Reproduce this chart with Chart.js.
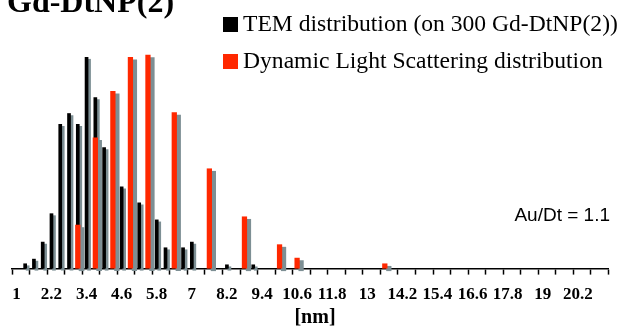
<!DOCTYPE html>
<html>
<head>
<meta charset="utf-8">
<script src="https://cdn.jsdelivr.net/npm/chart.js@4.4.1/dist/chart.umd.min.js"></script>
<style>
  html, body { margin: 0; padding: 0; background: #ffffff; }
  #wrap { position: relative; width: 617px; height: 327px; overflow: hidden; background: #fff; }
  #c { position: absolute; left: 0; top: 0; }
  .t { position: absolute; white-space: nowrap; color: #000; }
  .serif { font-family: "Liberation Serif", "Times New Roman", serif; }
  #title { left: 7px; top: -14.8px; font-size: 32px; line-height: 32px; font-weight: bold; }
  .lg { left: 243px; font-size: 23.6px; line-height: 23.6px; }
  .sq { position: absolute; left: 223px; width: 15px; height: 15px; }
  #au { right: 7px; top: 204.6px; font-family: "Liberation Sans", Arial, sans-serif; font-size: 19px; line-height: 19px; }
  #xt { left: 315px; top: 306px; transform: translateX(-50%); font-size: 20px; line-height: 20px; font-weight: bold; }
</style>
</head>
<body>
<div id="wrap">
  <canvas id="c" width="617" height="327"></canvas>
  <div class="t serif" id="title">Gd-DtNP(2)</div>
  <div class="sq" style="top:16.5px;background:#000;"></div>
  <div class="t serif lg" style="top:11.8px;">TEM distribution (on 300 Gd-DtNP(2))</div>
  <div class="sq" style="top:53.5px;background:#ff2800;"></div>
  <div class="t serif lg" style="top:48.6px;">Dynamic Light Scattering distribution</div>
  <div class="t" id="au">Au/Dt = 1.1</div>
  <div class="t serif" id="xt">[nm]</div>
</div>
<script>
// Size bins (nm), 0.3 nm wide
const categories = ['1','1.3','1.6','1.9','2.2','2.5','2.8','3.1','3.4','3.7','4','4.3','4.6','4.9','5.2','5.5','5.8','6.1','6.4','6.7','7','7.3','7.6','7.9','8.2','8.5','8.8','9.1','9.4','9.7','10','10.3','10.6','10.9','11.2','11.5','11.8','12.1','12.4','12.7','13','13.3','13.6','13.9','14.2','14.5','14.8','15.1','15.4','15.7','16','16.3','16.6','16.9','17.2','17.5','17.8','18.1','18.4','18.7','19','19.3','19.6','19.9','20.2','20.5','20.8','21.1'];
// Labels shown on every 4th bin
const tickLabels = ['1','2.2','3.4','4.6','5.8','7','8.2','9.4','10.6','11.8','13','14.2','15.4','16.6','17.8','19','20.2'];

// TEM distribution (visible bars)
const temSizes  = ['1.3','1.6','1.9','2.2','2.5','2.8','3.1','3.4','3.7','4','4.6','5.2','5.8','6.1','6.7','7','8.2','9.1'];
const temCounts = [1.0, 1.9, 5.2, 10.7, 28.0, 30.1, 28.0, 41.0, 33.2, 23.5, 15.9, 12.8, 9.5, 4.1, 4.1, 5.2, 0.8, 0.8];

// Dynamic Light Scattering distribution
const dlsSizes  = ['3.1','3.7','4.3','4.9','5.5','6.4','7.6','8.8','10','10.6','13.6'];
const dlsValues = [8.5, 25.4, 34.4, 41.0, 41.4, 30.3, 19.4, 10.1, 4.7, 2.1, 1.0];

const shadowPlugin = {
  id: 'barShadow',
  beforeDatasetDraw(chart, args) {
    const ds = chart.data.datasets[args.index];
    const ctx = chart.ctx;
    ctx.save();
    ctx.shadowColor = '#7d8f94';
    ctx.shadowBlur = 0;
    ctx.shadowOffsetX = ds.shadowX || 0;
    ctx.shadowOffsetY = ds.shadowY || 0;
  },
  afterDatasetDraw(chart) {
    chart.ctx.restore();
  }
};

new Chart(document.getElementById('c').getContext('2d'), {
  type: 'bar',
  data: {
    labels: categories,
    datasets: [
      {
        label: 'TEM distribution (on 300 Gd-DtNP(2))',
        data: temSizes.map((s, i) => ({ x: s, y: temCounts[i] })),
        backgroundColor: '#000000',
        borderWidth: 0,
        grouped: false,
        barPercentage: 0.42,
        categoryPercentage: 1,
        order: 1,
        clip: false,
        shadowX: 2.5,
        shadowY: 2
      },
      {
        label: 'Dynamic Light Scattering distribution',
        data: dlsSizes.map((s, i) => ({ x: s, y: dlsValues[i] })),
        backgroundColor: '#ff2800',
        borderWidth: 0,
        grouped: false,
        barPercentage: 0.6,
        categoryPercentage: 1,
        order: 0,
        clip: false,
        shadowX: 4,
        shadowY: 2.5
      }
    ]
  },
  options: {
    responsive: false,
    devicePixelRatio: 1,
    animation: false,
    layout: { padding: { left: 12, right: 8.5, top: 36.25, bottom: 12 } },
    plugins: { legend: { display: false }, tooltip: { enabled: false }, title: { display: false } },
    scales: {
      x: {
        z: 1,
        offset: true,
        grid: {
          offset: true,
          drawOnChartArea: false,
          drawTicks: true,
          tickLength: 6,
          tickWidth: 1.5,
          tickColor: (ctx) => (ctx.index === undefined || ctx.index % 2 === 0) ? '#000000' : 'rgba(0,0,0,0)'
        },
        border: { display: true, color: '#000000', width: 1.6 },
        ticks: {
          autoSkip: false,
          maxRotation: 0,
          minRotation: 0,
          padding: 10,
          color: '#000000',
          font: { family: '"Liberation Serif", "Times New Roman", serif', weight: 'bold', size: 17 },
          callback: (v, i) => (i % 4 === 0 ? tickLabels[i / 4] : '')
        }
      },
      y: { display: false, min: 0, max: 45 }
    }
  },
  plugins: [shadowPlugin]
});
</script>
</body>
</html>
